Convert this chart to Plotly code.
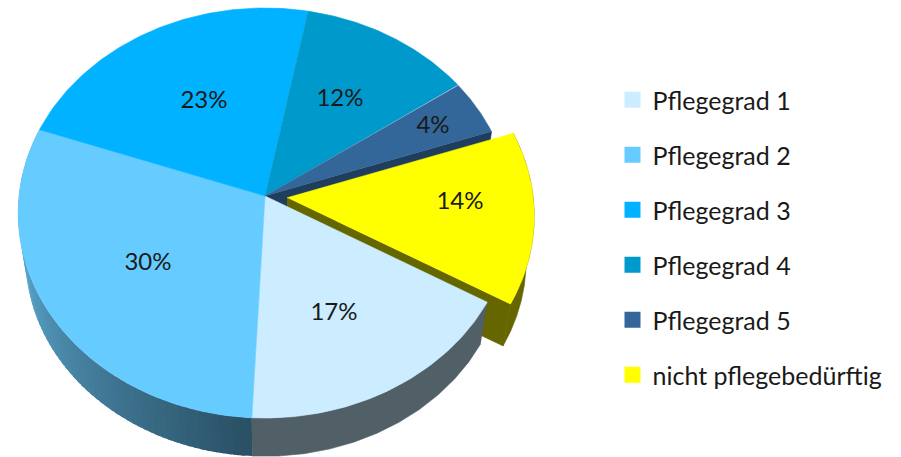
import numpy as np
import plotly.graph_objects as go

# --- data ---
categories = ["Pflegegrad 1", "Pflegegrad 2", "Pflegegrad 3",
              "Pflegegrad 4", "Pflegegrad 5", "nicht pflegebedürftig"]
values = [17.45, 29.65, 22.6, 12.3, 4.4, 13.6]
pull = [0, 0, 0, 0, 0, 0.09]

# --- styles ---
top_colors = ["#CCECFF", "#66CCFF", "#00B2FF", "#0099CC", "#336699", "#FFFF00"]
FONT = "Lato, Carlito, Calibri, sans-serif"
TEXT = "#1a1a1a"
LABEL_POS = [(334, 314), (148, 264), (204, 102), (340, 100), (433, 127), (460, 203)]

# --- projection of the tilted pie (perspective) on the pixel-like axes ---
W, H = 901, 457
CX, CY, RX, RY, K = 265.0, 196.0, 246.0, 203.6, 0.083
SHRINK, DEPTH = 0.97, 45.0
START = 120.0


def project(u, v, bottom=False):
    u, v = np.asarray(u, float), np.asarray(v, float)
    d = 1 + K * v
    x, y = RX * u / d, -RY * v / d
    if bottom:
        return CX + SHRINK * x, CY + SHRINK * y + DEPTH
    return CX + x, CY + y


def hexrgb(h):
    return np.array([int(h[i:i + 2], 16) for i in (1, 3, 5)], float)


def rgb(a):
    return "rgb(%d,%d,%d)" % tuple(np.round(a))


spans = np.array(values) / sum(values) * 360
starts = START + np.concatenate([[0], np.cumsum(spans)[:-1]])
ends = starts + spans
fig = go.Figure()


def poly(xs, ys, color, lw=0.6):
    fig.add_trace(go.Scatter(x=list(xs), y=list(ys), mode="lines", fill="toself",
                             fillcolor=color, line=dict(color=color, width=lw),
                             hoverinfo="skip", showlegend=False))


def arc(i, a0=None, a1=None, n=80):
    a0 = starts[i] if a0 is None else a0
    a1 = ends[i] if a1 is None else a1
    t = np.radians(np.linspace(a0, a1, n))
    mid = np.radians((starts[i] + ends[i]) / 2)
    ou, ov = pull[i] * np.sin(mid), pull[i] * np.cos(mid)
    return np.sin(t) + ou, np.cos(t) + ov, ou, ov


def top(i):
    u, v, ou, ov = arc(i)
    x, y = project(np.r_[ou, u], np.r_[ov, v])
    poly(x, y, top_colors[i])


def side(i, color0, color1=None, segs=1, reach=0.72):
    edges = np.linspace(starts[i], ends[i], segs + 1)
    # painted from the far end to the near end, each piece overlapping the next
    for s in range(segs - 1, -1, -1):
        u, v, _, _ = arc(i, edges[s], min(edges[s + 1] + 1.0, ends[i]), 12)
        x0, y0 = project(u, v)
        x1, y1 = project(u, v, True)
        if color1:
            c0 = hexrgb(color0)
            f = min(1.0, s / max(segs - 1, 1) / reach)
            poly(np.r_[x0, x1[::-1]], np.r_[y0, y1[::-1]],
                 rgb(c0 + (hexrgb(color1) - c0) * f), lw=0)
        else:
            poly(np.r_[x0, x1[::-1]], np.r_[y0, y1[::-1]], color0)


def wall(i, angle, color):
    t = np.radians(angle)
    mid = np.radians((starts[i] + ends[i]) / 2)
    ou, ov = pull[i] * np.sin(mid), pull[i] * np.cos(mid)
    u, v = np.array([ou, np.sin(t) + ou]), np.array([ov, np.cos(t) + ov])
    x0, y0 = project(u, v)
    x1, y1 = project(u, v, True)
    poly(np.r_[x0, x1[::-1]], np.r_[y0, y1[::-1]], color)


# hidden walls and rims, back to front
wall(4, ends[4], "#1F3D5C")
wall(5, starts[5] + spans[5], "#666600")
side(5, "#666600")
side(0, "#515F66")
side(1, "#2A5166", "#5CA8D0", segs=70)

# top faces
for i in range(6):
    top(i)

# legend entries
for name, c in zip(categories, top_colors):
    fig.add_trace(go.Scatter(x=[None], y=[None], mode="markers", name=name,
                             legendgroup=name,
                             marker=dict(symbol="square", size=16, color=c),
                             hoverinfo="skip"))

# percentage labels
fig.add_trace(go.Scatter(x=[p[0] for p in LABEL_POS], y=[p[1] for p in LABEL_POS],
                         mode="text", text=[f"{v:.0f}%" for v in values],
                         textposition="middle center",
                         textfont=dict(family=FONT, size=24, color=TEXT),
                         hoverinfo="skip", showlegend=False))

fig.update_layout(
    width=W, height=H, autosize=False,
    margin=dict(l=0, r=0, t=0, b=0),
    paper_bgcolor="white", plot_bgcolor="white",
    xaxis=dict(range=[0, W], visible=False, fixedrange=True),
    yaxis=dict(range=[H, 0], visible=False, fixedrange=True),
    legend=dict(x=612.5 / W, xanchor="left", y=1 - 77 / H, yanchor="top",
                font=dict(family=FONT, size=25, color=TEXT),
                tracegroupgap=19.5, bgcolor="rgba(0,0,0,0)", itemclick=False,
                itemdoubleclick=False),
)

fig.write_html("out.html", config=dict(displayModeBar=False),
               post_script="document.body.style.margin='0';")
